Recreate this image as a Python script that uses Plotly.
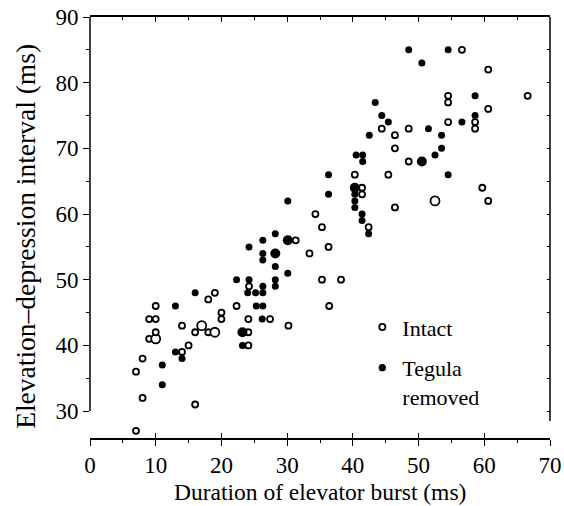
import plotly.graph_objects as go

# ---- data ----
intact_x = [7, 7, 8, 8, 9, 9, 10, 10, 10, 10,
            14, 14, 15, 16, 16, 17, 18, 18, 19, 19,
            20, 20, 22.3, 24.1, 24.1, 24.1, 24.2, 27.4, 30.2, 31.3,
            33.4, 34.3, 35.3, 35.3, 36.4, 36.3, 38.2, 40.3, 41.4, 41.4,
            42.4, 44.4, 45.4, 46.4, 46.4, 46.4, 48.5, 48.5, 52.5, 54.5,
            54.5, 54.5, 56.6, 58.6, 58.6, 59.7, 60.6, 60.6, 60.6, 66.6]
intact_y = [27, 36, 32, 38, 41, 44, 41, 42, 44, 46,
            39, 43, 40, 31, 42, 43, 42, 47, 42, 48,
            44, 45, 46, 40, 42, 44, 49, 44, 43, 56,
            54, 60, 50, 58, 46, 55, 50, 66, 63, 64,
            58, 73, 66, 61, 70, 72, 68, 73, 62, 74,
            77, 78, 85, 73, 74, 64, 62, 76, 82, 78]
# number of coincident observations drawn as one (larger) circle
intact_n = [1] * len(intact_x)
for i in (6, 15, 18, 48):
    intact_n[i] = 2

removed_x = [11, 11, 13, 13, 14, 16, 22.3, 23.2, 23.2, 24,
             24.2, 24.2, 25.2, 25.3, 26.2, 26.3, 26.3, 26.3, 26.3, 26.3,
             26.3, 28.2, 28.2, 28.2, 28.2, 28.2, 30.1, 30.1, 30.1, 36.3,
             36.3, 40.3, 40.3, 40.3, 40.3, 40.5, 41.4, 41.4, 41.5, 41.5,
             42.4, 42.5, 43.4, 44.4, 45.4, 48.5, 50.5, 50.5, 51.5, 52.5,
             53.5, 53.5, 54.5, 54.5, 56.6, 58.6, 58.6]
removed_y = [34, 37, 39, 46, 38, 48, 50, 40, 42, 48,
             50, 55, 48, 46, 44, 46, 48, 49, 53, 54,
             56, 49, 50, 52, 54, 57, 51, 56, 62, 63,
             66, 61, 62, 63, 64, 69, 59, 60, 68, 69,
             57, 72, 77, 75, 74, 85, 68, 83, 73, 69,
             70, 72, 66, 85, 74, 75, 78]
removed_n = [1] * len(removed_x)
for i in (8, 24, 27, 34, 46):
    removed_n[i] = 2

x_ticks = [0, 10, 20, 30, 40, 50, 60, 70]
x_minor = [5, 15, 25, 35, 45, 55, 65]
y_ticks = [30, 40, 50, 60, 70, 80, 90]
y_minor = [35, 45, 55, 65, 75, 85]
x_range = [0, 70]
y_range = [25.9, 90]       # x axis sits a little below the 30 ms tick
y_spine = [30, 90]         # extent of the left axis line
y_spine_right = [28.5, 90]

x_title = "Duration of elevator burst (ms)"
y_title = "Elevation–depression interval (ms)"

FONT = "Liberation Serif"
TICK_SIZE = 23

fig = go.Figure()
fig.add_trace(go.Scatter(
    x=intact_x, y=intact_y, mode="markers", name="Intact",
    legendgroup="a", cliponaxis=False,
    marker=dict(symbol="circle", color="white", opacity=1,
                size=[6 if n == 1 else 9 for n in intact_n],
                line=dict(color="black", width=1.8)),
))
fig.add_trace(go.Scatter(
    x=removed_x, y=removed_y, mode="markers", name="Tegula<br>removed",
    legendgroup="b", cliponaxis=False,
    marker=dict(symbol="circle", color="black", opacity=1,
                size=[7 if n == 1 else 10 for n in removed_n],
                line=dict(color="black", width=0)),
))
# empty traces so that the extra tick-only axes get drawn
for xa, ya in (("x2", "y"), ("x3", "y"), ("x", "y2")):
    fig.add_trace(go.Scatter(x=[], y=[], xaxis=xa, yaxis=ya, mode="markers",
                             showlegend=False, hoverinfo="skip"))

common = dict(showgrid=False, zeroline=False, linecolor="black", tickcolor="black",
              automargin=False)
LW = 1.5

fig.update_layout(
    width=564, height=506,
    margin=dict(l=90, r=14, t=17, b=68, autoexpand=False),
    plot_bgcolor="white", paper_bgcolor="white",
    font=dict(family=FONT, size=TICK_SIZE, color="black"),
    showlegend=True,
    legend=dict(x=0.592, y=0.313, xanchor="left", yanchor="top",
                bgcolor="rgba(0,0,0,0)", font=dict(family=FONT, size=22),
                tracegroupgap=9, valign="top", itemwidth=30),
    xaxis=dict(range=x_range, anchor="y",
               tickmode="array", tickvals=x_ticks,
               ticks="outside", ticklen=6, tickwidth=1.3,
               showline=True, linewidth=LW,
               minor=dict(ticks="outside", ticklen=3, tickvals=x_minor, tickwidth=1, showgrid=False),
               tickfont=dict(family=FONT, size=TICK_SIZE),
               **common),
    xaxis2=dict(range=x_range, overlaying="x", anchor="y",
                tickmode="array", tickvals=x_ticks,
                ticks="inside", ticklen=5, tickwidth=1.3,
                showticklabels=False, showline=False, **common),
    xaxis3=dict(range=x_range, overlaying="x", side="top", anchor="y",
                tickmode="array", tickvals=x_ticks,
                ticks="inside", ticklen=5, tickwidth=1.3,
                minor=dict(ticks="inside", ticklen=3, tickvals=x_minor, tickwidth=1, showgrid=False),
                showticklabels=False, showline=True, linewidth=LW, **common),
    yaxis=dict(range=y_range, domain=[0, 1], anchor="x",
               tickmode="array", tickvals=y_ticks,
               ticks="outside", ticklen=6, tickwidth=1.3,
               showline=False,
               minor=dict(ticks="outside", ticklen=3, tickvals=y_minor,
                          tickwidth=1, showgrid=False),
               tickfont=dict(family=FONT, size=TICK_SIZE),
               **common),
    yaxis2=dict(range=y_range, overlaying="y", side="right", anchor="x",
                tickmode="array", tickvals=y_ticks + y_minor,
                ticks="inside", ticklen=3, tickwidth=1,
                showticklabels=False, showline=False, **common),
    shapes=[
        dict(type="line", xref="paper", yref="y", x0=0, x1=0,
             y0=y_spine[0], y1=y_spine[1], line=dict(color="black", width=LW)),
        dict(type="line", xref="paper", yref="y", x0=1, x1=1,
             y0=y_spine_right[0], y1=y_spine_right[1], line=dict(color="black", width=LW)),
    ],
    annotations=[
        dict(text=y_title, xref="paper", yref="paper", x=-0.139, y=0.478,
             xanchor="center", yanchor="middle", textangle=-90, showarrow=False,
             font=dict(family=FONT, size=27.5)),
        dict(text=x_title, xref="paper", yref="paper", x=0.5, y=-0.128,
             xanchor="center", yanchor="middle", showarrow=False,
             font=dict(family=FONT, size=23.5)),
    ],
)

fig.write_html("out.html")
